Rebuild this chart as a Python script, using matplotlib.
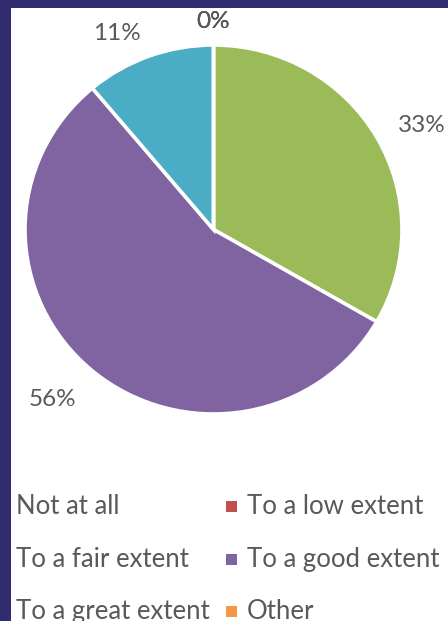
import numpy as np
import matplotlib
matplotlib.use("Agg")
import matplotlib.pyplot as plt
from matplotlib.patches import Rectangle

# Survey responses (counts) per answer category
categories = ["Not at all", "To a low extent", "To a fair extent",
              "To a good extent", "To a great extent", "Other"]
counts = [0, 0, 3, 5, 1, 0]
colors = ["#4F81BD", "#C0504D", "#9BBB59", "#8064A2", "#4BACC6", "#F79646"]

W, H = 448, 621
DPI = 100
TEXT_COLOR = "#595959"
FONT = ["Lato", "DejaVu Sans"]
BORDER = "#312C6F"
FS_LABEL = 17.5
FS_LEGEND = 18.5

fig = plt.figure(figsize=(W / DPI, H / DPI), dpi=DPI)
fig.patch.set_facecolor("white")


def fx(px):
    return px / W


def fy(py):
    return 1 - py / H


# Pie area (pixel box of the disc)
left, right, top, bottom = 25, 402, 45, 414
ax = fig.add_axes([fx(left), fy(bottom), fx(right) - fx(left), fy(top) - fy(bottom)])

total = sum(counts)
wedges, _ = ax.pie(counts, colors=colors, startangle=90, counterclock=False,
                   radius=1.0,
                   wedgeprops=dict(edgecolor="white", linewidth=2.6))
ax.set_aspect("auto")
ax.set_xlim(-1, 1)
ax.set_ylim(-1, 1)
ax.axis("off")

# Percentage labels just outside each wedge
label_dist = 1.13
for w, c in zip(wedges, counts):
    mid = np.deg2rad((w.theta1 + w.theta2) / 2)
    x, y = label_dist * np.cos(mid), label_dist * np.sin(mid)
    if abs(x) < 0.05:
        ha = "center"
    else:
        ha = "left" if x > 0 else "right"
    va = "top" if y < -0.3 else "center"
    pct = round(100 * c / total)
    ax.text(x, y, f"{pct}%", ha=ha, va=va, fontsize=FS_LABEL,
            color=TEXT_COLOR, family=FONT, clip_on=False)

# Legend laid out in rows of two entries
col_text_x = [16, 247]
marker_gap = 16
row_baseline = [514, 567, 619]
sq = 11
for i, (name, col) in enumerate(zip(categories, colors)):
    r, c = divmod(i, 2)
    tx = col_text_x[c]
    by = row_baseline[r]
    mx = tx - marker_gap
    fig.add_artist(Rectangle((fx(mx - sq / 2), fy(by - 2)), sq / W, sq / H,
                             transform=fig.transFigure, facecolor=col,
                             edgecolor="none", zorder=2))
    fig.text(fx(tx), fy(by), name, ha="left", va="baseline", fontsize=FS_LEGEND,
             color=TEXT_COLOR, family=FONT, zorder=3)

# Dark frame along the top and left edges
fig.add_artist(Rectangle((0, fy(8)), 1, 8 / H, transform=fig.transFigure,
                         facecolor=BORDER, edgecolor="none", zorder=10))
fig.add_artist(Rectangle((0, 0), 11 / W, 1, transform=fig.transFigure,
                         facecolor=BORDER, edgecolor="none", zorder=10))

fig.savefig("out.png", dpi=DPI, facecolor="white")
